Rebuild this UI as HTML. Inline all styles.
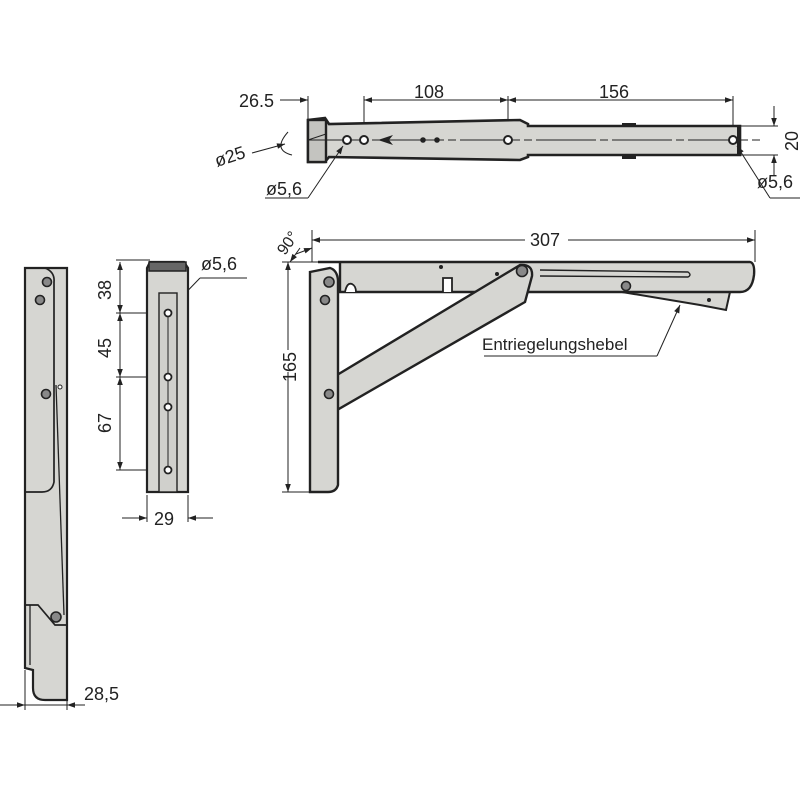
<!DOCTYPE html>
<html><head><meta charset="utf-8"><style>
html,body{margin:0;padding:0;background:#fff}
svg{display:block}
text{font-family:"Liberation Sans",sans-serif;fill:#222}
</style></head><body>
<svg width="800" height="800" viewBox="0 0 800 800" xmlns="http://www.w3.org/2000/svg">
<defs>
<marker id="a" viewBox="0 0 10 10" refX="10" refY="5" markerWidth="11" markerHeight="8" orient="auto-start-reverse" markerUnits="userSpaceOnUse"><path d="M0,1.5 L10,5 L0,8.5z" fill="#222"/></marker>
</defs>
<g stroke="#222" fill="none" stroke-width="1">
<line x1="308" y1="96" x2="308" y2="122"/>
<line x1="364" y1="96" x2="364" y2="135"/>
<line x1="508" y1="96" x2="508" y2="135"/>
<line x1="733" y1="96" x2="733" y2="135"/>
<line x1="280" y1="100" x2="308" y2="100" marker-end="url(#a)"/>
<line x1="364" y1="100" x2="508" y2="100" marker-start="url(#a)" marker-end="url(#a)"/>
<line x1="508" y1="100" x2="733" y2="100" marker-start="url(#a)" marker-end="url(#a)"/>
</g>
<path d="M308,120 L325,118 L329,124 L520,120 L528,124 L528,126 L740,126 L740,155 L528,155 L528,157 L520,160 L329,157 L325,162 L308,162 Z" fill="#d6d6d2" stroke="#222" stroke-width="2.6"/>
<rect x="308" y="120" width="18" height="42" fill="#c4c4c0" stroke="#222" stroke-width="2.4"/>
<rect x="622" y="123" width="14" height="4" fill="#222"/>
<rect x="622" y="155" width="14" height="4" fill="#222"/>
<rect x="737" y="126" width="4" height="29" fill="#222"/>
<g stroke="#222" stroke-width="1" fill="none">
<line x1="308" y1="140" x2="760" y2="140" stroke-dasharray="60 4 8 4"/>
<line x1="740" y1="126" x2="778" y2="126"/>
<line x1="740" y1="155" x2="778" y2="155"/>
<line x1="774" y1="106" x2="774" y2="126" marker-end="url(#a)"/>
<line x1="774" y1="175" x2="774" y2="155" marker-end="url(#a)"/>
<path d="M288,132 Q272,150 292,155"/>
<line x1="252" y1="153" x2="285" y2="144" marker-end="url(#a)"/>
<line x1="326" y1="134" x2="308" y2="140"/>
<line x1="265" y1="198" x2="308" y2="198"/>
<line x1="308" y1="198" x2="343" y2="146" marker-end="url(#a)"/>
<line x1="800" y1="198" x2="770" y2="198"/>
<line x1="770" y1="198" x2="737" y2="146" marker-end="url(#a)"/>
</g>
<g fill="#fff" stroke="#222" stroke-width="2">
<circle cx="347" cy="140" r="4"/><circle cx="364" cy="140" r="4"/><circle cx="508" cy="140" r="4"/><circle cx="733" cy="140" r="4"/>
</g>
<circle cx="423" cy="140" r="2.8" fill="#222"/><circle cx="437" cy="140" r="2.8" fill="#222"/>
<path d="M378,140 L393,135 L389,140 L393,145Z" fill="#222"/>
<text x="239" y="107" font-size="18">26.5</text>
<text x="414" y="98" font-size="18">108</text>
<text x="599" y="98" font-size="18">156</text>
<text x="0" y="0" font-size="18" transform="translate(798,151) rotate(-90)">20</text>
<text x="0" y="0" font-size="18" transform="translate(217,167) rotate(-18)">ø25</text>
<text x="266" y="195" font-size="18">ø5,6</text>
<text x="757" y="188" font-size="18">ø5,6</text>

<!-- FRONT VIEW -->
<g stroke="#222" stroke-width="1" fill="none">
<line x1="312" y1="230" x2="312" y2="262"/>
<line x1="755" y1="230" x2="755" y2="262"/>
<line x1="312" y1="240" x2="525" y2="240" marker-start="url(#a)"/>
<line x1="568" y1="240" x2="755" y2="240" marker-end="url(#a)"/>
<line x1="282" y1="262" x2="318" y2="262"/>
<line x1="282" y1="492" x2="312" y2="492"/>
<line x1="288" y1="262" x2="288" y2="350" marker-start="url(#a)"/>
<line x1="288" y1="372" x2="288" y2="492" marker-end="url(#a)"/>
<path d="M300,248 Q295,255 290,262" marker-end="url(#a)"/>
<path d="M296,254 L312,248" marker-end="url(#a)"/>
</g>
<path d="M610,290 L730,292 L726,310 L700,305 Z" fill="#d6d6d2" stroke="#222" stroke-width="2"/>
<path d="M318,262 L750,262 Q755,263 754,275 Q752,292 740,292 L340,292 L340,262 Z" fill="#d6d6d2" stroke="#222" stroke-width="2.4"/>
<path d="M340,292 L345,292 Q347,282 352,284 Q356,286 356,292 L443,292 L443,278 L452,278 L452,292" fill="#fff" stroke="#222" stroke-width="1.8"/>
<path d="M540,270 L688,272 Q692,275 688,277 L540,276" fill="none" stroke="#222" stroke-width="1.4"/>
<circle cx="626" cy="286" r="4.5" fill="#888" stroke="#222" stroke-width="1.6"/>
<circle cx="709" cy="300" r="2" fill="#222"/>
<circle cx="441" cy="267" r="2" fill="#222"/>
<circle cx="497" cy="274" r="2" fill="#222"/>
<path d="M337,375 L520,265 Q533,264 532,276 L525,302 L337,410 Z" fill="#d6d6d2" stroke="#222" stroke-width="2.4"/>
<circle cx="522" cy="271" r="5.5" fill="#888" stroke="#222" stroke-width="1.6"/>
<path d="M310,272 L330,268 Q337,270 338,280 L338,485 Q336,492 328,492 L310,492 Z" fill="#d6d6d2" stroke="#222" stroke-width="2.4"/>
<circle cx="329" cy="282" r="5" fill="#888" stroke="#222" stroke-width="1.6"/>
<circle cx="325" cy="300" r="4.5" fill="#888" stroke="#222" stroke-width="1.6"/>
<circle cx="329" cy="394" r="4.5" fill="#888" stroke="#222" stroke-width="1.6"/>
<g stroke="#222" stroke-width="1" fill="none">
<line x1="484" y1="356" x2="657" y2="356"/>
<line x1="657" y1="356" x2="680" y2="305" marker-end="url(#a)"/>
</g>
<text x="530" y="246" font-size="18">307</text>
<text x="0" y="0" font-size="18" transform="translate(296,382) rotate(-90)">165</text>
<text x="0" y="0" font-size="16" transform="translate(285,256) rotate(-55)">90°</text>
<text x="482" y="350" font-size="17">Entriegelungshebel</text>

<!-- SIDE VIEW 2 -->
<g stroke="#222" stroke-width="1" fill="none">
<line x1="116" y1="260" x2="150" y2="260"/>
<line x1="116" y1="313" x2="168" y2="313"/>
<line x1="116" y1="377" x2="168" y2="377"/>
<line x1="116" y1="470" x2="168" y2="470"/>
<line x1="120" y1="262" x2="120" y2="313" marker-start="url(#a)" marker-end="url(#a)"/>
<line x1="120" y1="313" x2="120" y2="377" marker-start="url(#a)" marker-end="url(#a)"/>
<line x1="120" y1="377" x2="120" y2="470" marker-start="url(#a)" marker-end="url(#a)"/>
<line x1="147" y1="495" x2="147" y2="522"/>
<line x1="188" y1="495" x2="188" y2="522"/>
<line x1="122" y1="518" x2="147" y2="518" marker-end="url(#a)"/>
<line x1="213" y1="518" x2="188" y2="518" marker-end="url(#a)"/>
<line x1="247" y1="278" x2="200" y2="278"/>
<line x1="200" y1="278" x2="172" y2="307" marker-end="url(#a)"/>
</g>
<path d="M147,268 L150,262 L184,262 L188,268 L188,492 L147,492 Z" fill="#d6d6d2" stroke="#222" stroke-width="2.2"/>
<rect x="149" y="262" width="37" height="9" fill="#666" stroke="#222" stroke-width="1.5"/>
<rect x="159" y="293" width="18" height="199" fill="#d0d0cc" stroke="#222" stroke-width="1.4"/>
<line x1="168" y1="313" x2="168" y2="470" stroke="#222" stroke-width="1"/>
<g fill="#fff" stroke="#222" stroke-width="1.8">
<circle cx="168" cy="313" r="3.5"/><circle cx="168" cy="377" r="3.5"/><circle cx="168" cy="407" r="3.5"/><circle cx="168" cy="470" r="3.5"/>
</g>
<text x="201" y="270" font-size="18">ø5,6</text>
<text x="0" y="0" font-size="18" transform="translate(111,300) rotate(-90)">38</text>
<text x="0" y="0" font-size="18" transform="translate(111,358) rotate(-90)">45</text>
<text x="0" y="0" font-size="18" transform="translate(111,433) rotate(-90)">67</text>
<text x="154" y="525" font-size="18">29</text>

<!-- SIDE VIEW 1 -->
<path d="M25,268 L67,268 L67,700 L45,700 Q33,700 33,688 L33,670 L25,668 Z" fill="#d6d6d2" stroke="#222" stroke-width="2.2"/>
<path d="M25,268 L45,268 Q55,272 54,282 L54,482 Q52,492 42,492 L25,492" fill="none" stroke="#222" stroke-width="1.7"/>
<path d="M25,605 L38,605 L55,625 L67,625" fill="none" stroke="#222" stroke-width="1.7"/>
<line x1="56" y1="385" x2="64" y2="615" stroke="#222" stroke-width="1.3"/>
<line x1="30" y1="605" x2="30" y2="665" stroke="#222" stroke-width="1.3"/>
<g fill="#888" stroke="#222" stroke-width="1.6">
<circle cx="47" cy="282" r="4.5"/><circle cx="40" cy="300" r="4.5"/><circle cx="46" cy="394" r="4.5"/><circle cx="56" cy="617" r="5"/>
</g>
<circle cx="60" cy="387" r="2" fill="#fff" stroke="#222"/>
<g stroke="#222" stroke-width="1" fill="none">
<line x1="25" y1="670" x2="25" y2="710"/>
<line x1="67" y1="700" x2="67" y2="710"/>
<line x1="0" y1="705" x2="25" y2="705" marker-end="url(#a)"/>
<line x1="85" y1="705" x2="67" y2="705" marker-end="url(#a)"/>
<line x1="25" y1="705" x2="67" y2="705"/>
</g>
<text x="84" y="700" font-size="18">28,5</text>
</svg>
</body></html>
